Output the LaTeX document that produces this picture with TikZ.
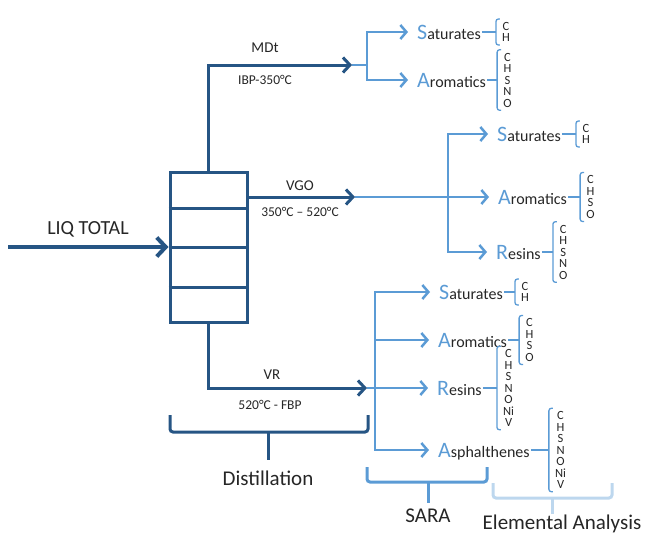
\documentclass[tikz,border=0pt]{standalone}
\usepackage{fontspec}
\setmainfont{Carlito}
\usetikzlibrary{arrows.meta}
\usetikzlibrary{positioning}

\definecolor{darkblue}{RGB}{38,85,132}
\definecolor{lightblue}{RGB}{91,155,213}
\definecolor{paleblue}{RGB}{189,215,238}
\definecolor{textgray}{RGB}{38,38,38}

\newcommand{\firstletter}[1]{{\fontsize{22}{22}\selectfont\color{lightblue}#1}}

\tikzset{
    darkline/.style={draw=darkblue, line width=3pt},
    darkarrow/.style={darkline, -{Straight Barb[length=7pt,width=15pt]}},
    feedarrow/.style={draw=darkblue, line width=4pt, -{Straight Barb[length=9pt,width=19pt]}},
    lightline/.style={draw=lightblue, line width=2.5pt},
    lightarrow/.style={lightline, -{Straight Barb[length=6pt,width=14pt]}, shorten >=8pt},
    column/.style={draw=darkblue, line width=3pt, minimum width=77pt, minimum height=150pt, inner sep=0pt},
    frac/.style={anchor=west, inner xsep=1pt, inner ysep=0pt, text height=14pt, text depth=0pt,
        font=\fontsize{16}{16}\selectfont, text=textgray},
    elem/.style={align=center, inner xsep=6pt, inner ysep=3pt,
        font=\fontsize{12.5}{11.5}\selectfont, text=textgray},
    bracket/.style={draw=lightblue, line width=1.3pt, rounded corners=2.5pt},
    tie/.style={draw=lightblue, line width=1.3pt},
    cutname/.style={text=textgray, font=\fontsize{15}{15}\selectfont},
    cuttemp/.style={text=textgray, font=\fontsize{13.5}{13.5}\selectfont},
    groupname/.style={text=textgray, font=\fontsize{21}{21}\selectfont},
    brace/.style={line width=3pt, rounded corners=3pt},
}

\begin{document}
\begin{tikzpicture}[x=1pt, y=-1pt]
    \useasboundingbox (0,0) rectangle (647,536);

    % distillation column and feed
    \node[column] (col) at (208.5,247) {};
    \foreach \y in {208,247,287}
        \draw[darkline] (col.west |- 0,\y) -- (col.east |- 0,\y);
    \coordinate (feed) at (8,247);
    \node[groupname, font=\fontsize{20}{20}\selectfont] (liq) at (88,229) {LIQ TOTAL};
    \draw[feedarrow] (feed) -- (col.west);

    % cuts leaving the column
    \coordinate (mdtEnd) at (352,65);
    \coordinate (mdtFork) at (367,65);
    \coordinate (vgoEnd) at (355,197);
    \coordinate (vgoFork) at (448,197);
    \coordinate (vrEnd) at (367,388);
    \coordinate (vrFork) at (375,388);

    \node[cutname] (mdt) at (265,48) {MDt};
    \node[cuttemp] (mdtTemp) at (265,80) {IBP-350°C};
    \node[cutname] (vgo) at (300,186) {VGO};
    \node[cuttemp] (vgoTemp) at (300,212) {350°C – 520°C};
    \node[cutname] (vr) at (272,375) {VR};
    \node[cuttemp] (vrTemp) at (270,405) {520°C - FBP};

    \draw[lightline] (mdtEnd) -- (mdtFork);
    \draw[lightline] (vgoEnd) -- (vgoFork);
    \draw[lightline] (vrEnd) -- (vrFork);
    \draw[darkarrow] (col.north) |- (mdtEnd);
    \draw[darkarrow] (col.east |- vgoEnd) -- (vgoEnd);
    \draw[darkarrow] (col.south) |- (vrEnd);

    % MDt fractions
    \node[frac] (mdtS) at (416,32) {\firstletter{S}aturates};
    \node[frac] (mdtA) at (416,80) {\firstletter{A}romatics};
    \draw[lightarrow] (mdtFork) |- (mdtS.west);
    \draw[lightarrow] (mdtFork) |- (mdtA.west);

    \node[elem, right=14pt of mdtS] (mdtSel) {C\\H};
    \node[elem, right=10pt of mdtA] (mdtAel) {C\\H\\S\\N\\O};

    % VGO fractions
    \node[frac] (vgoS) at (496,134) {\firstletter{S}aturates};
    \node[frac] (vgoA) at (497,197) {\firstletter{A}romatics};
    \node[frac] (vgoR) at (495,252) {\firstletter{R}esins};
    \draw[lightarrow] (vgoFork) |- (vgoS.west);
    \draw[lightarrow] (vgoFork) -- (vgoA.west);
    \draw[lightarrow] (vgoFork) |- (vgoR.west);

    \node[elem, right=14pt of vgoS] (vgoSel) {C\\H};
    \node[elem, right=12pt of vgoA] (vgoAel) {C\\H\\S\\O};
    \node[elem, right=11pt of vgoR] (vgoRel) {C\\H\\S\\N\\O};

    % VR fractions (SARA)
    \node[frac] (vrS) at (438,292) {\firstletter{S}aturates};
    \node[frac] (vrA) at (437,340) {\firstletter{A}romatics};
    \node[frac] (vrR) at (436,388) {\firstletter{R}esins};
    \node[frac] (vrAs) at (437,450) {\firstletter{A}sphalthenes};
    \draw[lightarrow] (vrFork) |- (vrS.west);
    \draw[lightarrow] (vrFork) |- (vrA.west);
    \draw[lightarrow] (vrFork) -- (vrR.west);
    \draw[lightarrow] (vrFork) |- (vrAs.west);

    \node[elem, right=11pt of vrS] (vrSel) {C\\H};
    \node[elem, right=11pt of vrA] (vrAel) {C\\H\\S\\O};
    \node[elem, right=14pt of vrR] (vrRel) {C\\H\\S\\N\\O\\Ni\\V};
    \node[elem, right=18pt of vrAs] (vrAsel) {C\\H\\S\\N\\O\\Ni\\V};

    % element brackets
    \foreach \f in {mdtS,mdtA,vgoS,vgoA,vgoR,vrS,vrA,vrR,vrAs} {
        \draw[tie] (\f.east) -- (\f el.west);
        \draw[bracket] ([xshift=4pt]\f el.north west) -- (\f el.north west)
            -- (\f el.south west) -- ([xshift=4pt]\f el.south west);
    }

    % group braces
    \node[groupname] (distil) at (268,478) {Distillation};
    \draw[brace, draw=darkblue] (170,415) |- (268,432) -| (368,415);
    \draw[brace, draw=darkblue] (268,432) -- (268,460);

    \node[groupname] (sara) at (428,516) {SARA};
    \draw[brace, draw=lightblue] (367,467) |- (428,482) -| (487,467);
    \draw[brace, draw=lightblue] (428,482) -- (428,503);

    \draw[brace, draw=paleblue] (493,483) |- (552,498) -| (612,483);
    \draw[brace, draw=paleblue] (552,498) -- (552,518);
    \node[groupname, fill=white, inner ysep=1pt] (elan) at (562,524) {Elemental Analysis};
\end{tikzpicture}
\end{document}
